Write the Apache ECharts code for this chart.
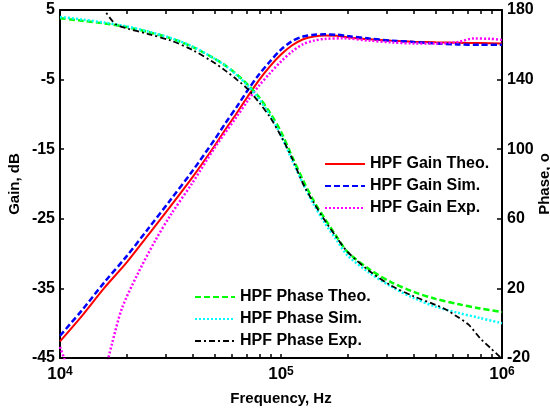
<!DOCTYPE html>
<html>
<head>
<meta charset="utf-8">
<script src="https://cdn.jsdelivr.net/npm/echarts@6/dist/echarts.min.js"></script>
<style>html,body{margin:0;padding:0;background:#fff}#c{width:550px;height:411px}</style>
</head>
<body>
<div id="c"></div>
<script>
// ---- data (frequency in Hz) ----
const freqHz = [1.00e4,1.26e4,1.58e4,2.00e4,2.51e4,3.16e4,3.98e4,5.01e4,5.62e4,6.31e4,7.08e4,7.94e4,8.91e4,1.00e5,1.12e5,1.26e5,1.41e5,1.58e5,1.78e5,2.00e5,2.51e5,3.16e5,3.98e5,5.01e5,6.31e5,7.94e5,1.00e6];
const gainTheo = [-42.6,-38.9,-35.0,-31.3,-27.3,-23.2,-19.0,-14.5,-12.1,-9.8,-7.4,-5.1,-3.1,-1.4,-0.1,0.8,1.2,1.35,1.3,1.1,0.8,0.6,0.45,0.35,0.3,0.25,0.2];
const gainSim  = [-41.8,-38.1,-34.2,-30.4,-26.4,-22.3,-18.1,-13.6,-11.2,-8.9,-6.5,-4.3,-2.4,-0.7,0.5,1.2,1.45,1.5,1.45,1.25,0.9,0.6,0.4,0.2,0.05,0.0,0.0];
const phaseTheo = [175.3,173.8,172.3,170.2,167.3,163.8,158.8,152,148,143,137,130,121,110,96,82,70,60,50,41,31,23.5,18,14,11,8.5,6.4];
const phaseSim  = [176,174.5,172.8,170.6,167.6,164,159,152,147.8,142.5,136.5,129,119.5,108,94,80,68,57.5,48,39,29,21,14.5,9.5,6,3,0];

const gainExpFreq = [1.00e4,1.07e4,1.32e4,1.58e4,1.72e4,1.91e4,2.24e4,2.69e4,3.16e4,3.98e4,5.01e4,6.31e4,7.08e4,7.94e4,8.91e4,1.00e5,1.12e5,1.26e5,1.41e5,1.58e5,1.91e5,2.51e5,3.16e5,3.98e5,5.01e5,6.31e5,7.41e5,8.91e5,1.00e6];
const gainExp = [-43.4,-46.0,-55,-47.5,-42.9,-37.8,-33.0,-28.2,-24.5,-19.8,-14.8,-10.3,-8.0,-5.9,-4.1,-2.4,-1.0,0.1,0.6,0.85,0.93,0.6,0.35,0.2,0.2,0.4,0.9,0.85,0.7];

const phaseExpFreq = [1.00e4,1.26e4,1.58e4,1.78e4,2.00e4,2.51e4,3.16e4,3.98e4,5.01e4,5.62e4,6.31e4,7.08e4,7.94e4,8.91e4,1.00e5,1.12e5,1.26e5,1.41e5,1.58e5,1.78e5,2.00e5,2.51e5,3.16e5,3.98e5,5.01e5,5.62e5,6.31e5,7.08e5,7.94e5,8.91e5,1.00e6];
const phaseExp = [215,197,180.2,172,169.5,166.2,162.5,157,149.5,145,140,134.5,127,118.5,107.5,95,80,69,59,49.5,41,30,21.5,15.5,10.5,7.6,3.5,-1,-8.5,-14.5,-20.5];

const xTickValues = [1e4,2e4,3e4,4e4,5e4,6e4,7e4,8e4,9e4,1e5,2e5,3e5,4e5,5e5,6e5,7e5,8e5,9e5,1e6];
const xLabelValues = [1e4,1e5,1e6];

const seriesNames = ['HPF Gain Theo.','HPF Gain Sim.','HPF Gain Exp.','HPF Phase Theo.','HPF Phase Sim.','HPF Phase Exp.'];

function pairs(xs, ys){ return xs.map((x,i)=>[x, ys[i]]); }

const FONT = "'Liberation Sans', Arial, sans-serif";
const txt = {color:'#000', fontFamily:FONT, fontWeight:'bold', fontSize:16};

const chart = echarts.init(document.getElementById('c'), null, {renderer:'canvas'});
const axisLine = {show:true, onZero:false, lineStyle:{color:'#000', width:2}};
const xTick = {show:true, inside:true, length:4, customValues:xTickValues, lineStyle:{color:'#000', width:1.5}};

function mkLine(name, data, yIdx, color, type, width){
  return {name, type:'line', data, yAxisIndex:yIdx, xAxisIndex:0, showSymbol:false, symbol:'none',
    smooth:0.3, clip:true, lineStyle:{color, type, width}, itemStyle:{color}, animation:false};
}

const legendCommon = {orient:'vertical', itemWidth:40, itemHeight:14, itemGap:6, padding:0,
  itemStyle:{opacity:0, borderWidth:0}, textStyle:Object.assign({}, txt)};

chart.setOption({
  animation:false,
  backgroundColor:'#fff',
  grid:{left:60, right:48, top:10, bottom:53, containLabel:false, outerBoundsMode:'none'},
  legend:[
    Object.assign({data:seriesNames.slice(0,3), left:324, top:156}, legendCommon),
    Object.assign({data:seriesNames.slice(3), left:194, top:289}, legendCommon)
  ],
  xAxis:[
    {type:'log', logBase:10, min:1e4, max:1e6, position:'bottom', gridIndex:0,
     axisLine, axisTick:xTick, splitLine:{show:false}, minorTick:{show:false},
     axisLabel:{customValues:xLabelValues, margin:8,
       formatter:(v)=>'{b|10}{s|'+Math.round(Math.log10(v))+'}',
       rich:{b:Object.assign({}, txt, {fontSize:17}), s:Object.assign({}, txt, {fontSize:12, verticalAlign:'top', padding:[0,0,0,0]})}},
     name:'Frequency, Hz', nameLocation:'middle', nameGap:33, nameMoveOverlap:false, nameTextStyle:Object.assign({}, txt, {fontSize:15})},
    {type:'log', logBase:10, min:1e4, max:1e6, position:'top', gridIndex:0,
     axisLine, axisTick:xTick, axisLabel:{show:false}, splitLine:{show:false}}
  ],
  yAxis:[
    {type:'value', min:-45, max:5, interval:10, position:'left',
     axisLine, axisTick:{show:true, inside:true, length:4, lineStyle:{color:'#000', width:1.5}},
     axisLabel:Object.assign({margin:5}, txt), splitLine:{show:false},
     name:'Gain, dB', nameLocation:'middle', nameRotate:90, nameGap:38, nameMoveOverlap:false, nameTextStyle:Object.assign({}, txt, {fontSize:15})},
    {type:'value', min:-20, max:180, interval:40, position:'right',
     axisLine, axisTick:{show:true, inside:true, length:5, lineStyle:{color:'#000', width:1.5}},
     axisLabel:Object.assign({margin:5}, txt), splitLine:{show:false},
     name:'Phase, o', nameLocation:'middle', nameRotate:90, nameGap:35, nameMoveOverlap:false, nameTextStyle:Object.assign({}, txt, {fontSize:15})}
  ],
  series:[
    mkLine(seriesNames[0], pairs(freqHz, gainTheo), 0, '#ff0000', 'solid', 2),
    mkLine(seriesNames[1], pairs(freqHz, gainSim), 0, '#0000ff', [6,3], 2.5),
    mkLine(seriesNames[2], pairs(gainExpFreq, gainExp), 0, '#ff00ff', [2,2], 2.5),
    mkLine(seriesNames[3], pairs(freqHz, phaseTheo), 1, '#00ff00', [6,3], 2.5),
    mkLine(seriesNames[4], pairs(freqHz, phaseSim), 1, '#00ffff', [2,2], 2.5),
    mkLine(seriesNames[5], pairs(phaseExpFreq, phaseExp), 1, '#000000', [6,3,2,3], 1.8)
  ]
});
</script>
</body>
</html>
